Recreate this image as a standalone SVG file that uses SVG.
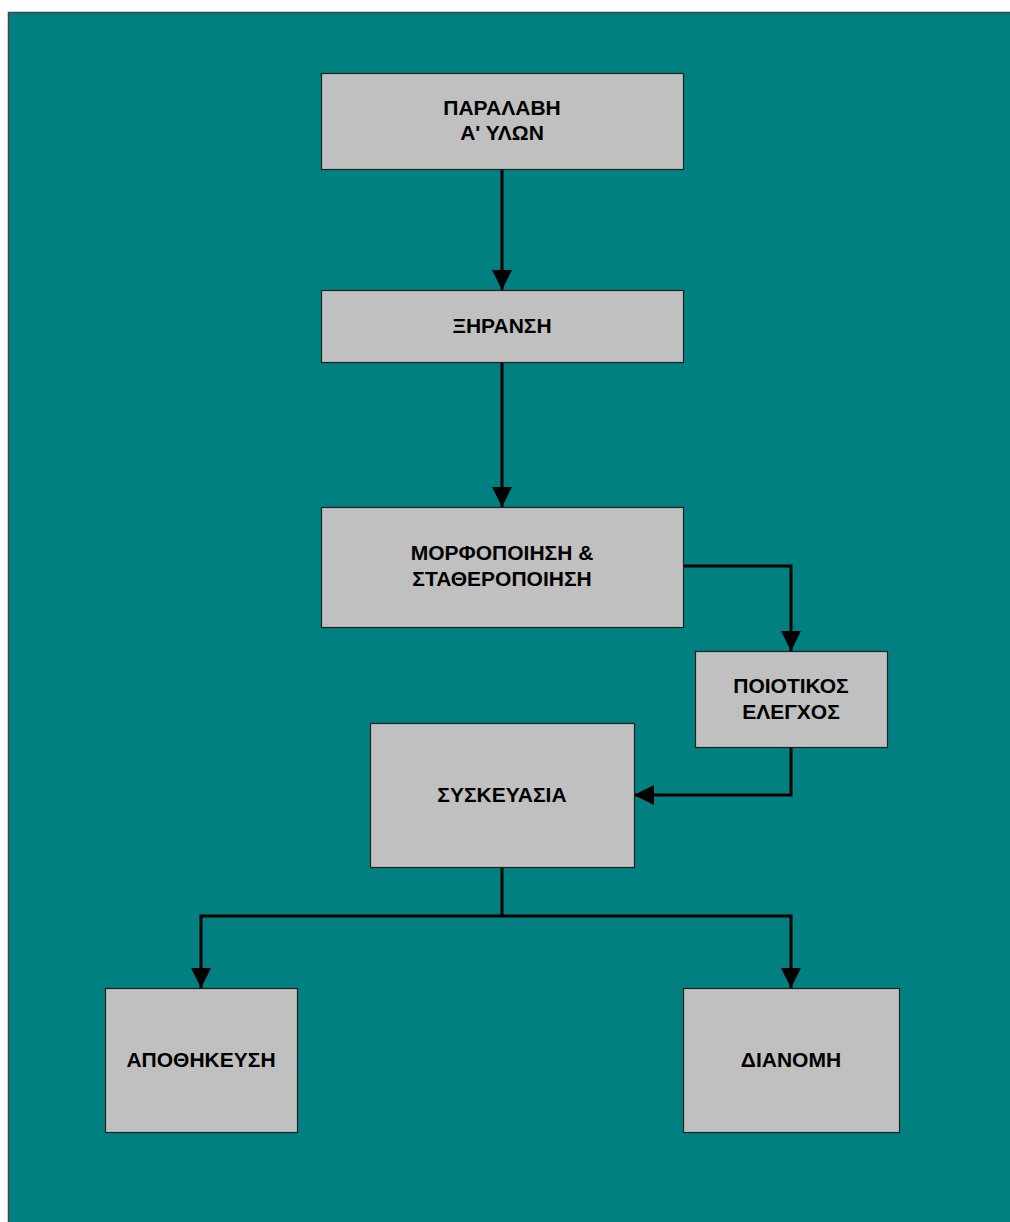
<svg xmlns="http://www.w3.org/2000/svg" width="1010" height="1222" viewBox="0 0 1010 1222">
<style>
.box{fill:#C0C0C0;stroke:#202020;stroke-width:1.2}
.t{font-family:"Liberation Sans",Arial,sans-serif;font-weight:bold;font-size:21px;fill:#000;text-anchor:middle}
.c{fill:none;stroke:#000;stroke-width:3;marker-end:url(#ah)}
.n{fill:none;stroke:#000;stroke-width:3}
</style>
<defs>
<marker id="ah" markerWidth="20" markerHeight="20" refX="20" refY="10" orient="auto" markerUnits="userSpaceOnUse" viewBox="0 0 20 20">
<path d="M0,0 L20,10 L0,20 Z" fill="#000"/>
</marker>
</defs>
<rect x="0" y="0" width="1010" height="1222" fill="#fff"/>
<rect x="8.5" y="12.5" width="1010" height="1220" fill="#008080" stroke="#444" stroke-width="1.5"/>
<g id="connectors">
<line class="c" x1="502" y1="169" x2="502" y2="290"/>
<line class="c" x1="502" y1="362" x2="502" y2="507"/>
<polyline class="c" points="683,566 791,566 791,651"/>
<polyline class="c" points="791,747 791,795 634,795"/>
<line class="n" x1="502" y1="867" x2="502" y2="916"/>
<polyline class="c" points="502,916 201,916 201,988"/>
<polyline class="c" points="502,916 791,916 791,988"/>
</g>
<g id="n1"><rect class="box" x="321.5" y="73.5" width="362" height="96"/><text class="t" x="502" y="115">ΠΑΡΑΛΑΒΗ</text><text class="t" x="502" y="140">Α' ΥΛΩΝ</text></g>
<g id="n2"><rect class="box" x="321.5" y="290.5" width="362" height="72"/><text class="t" x="502" y="333">ΞΗΡΑΝΣΗ</text></g>
<g id="n3"><rect class="box" x="321.5" y="507.5" width="362" height="120"/><text class="t" x="502" y="560">ΜΟΡΦΟΠΟΙΗΣΗ &amp;</text><text class="t" x="502" y="586">ΣΤΑΘΕΡΟΠΟΙΗΣΗ</text></g>
<g id="n4"><rect class="box" x="695.5" y="651.5" width="192" height="96"/><text class="t" x="791" y="693">ΠΟΙΟΤΙΚΟΣ</text><text class="t" x="791" y="719">ΕΛΕΓΧΟΣ</text></g>
<g id="n5"><rect class="box" x="370.5" y="723.5" width="264" height="144"/><text class="t" x="502" y="802">ΣΥΣΚΕΥΑΣΙΑ</text></g>
<g id="n6"><rect class="box" x="105.5" y="988.5" width="192" height="144"/><text class="t" x="201" y="1067">ΑΠΟΘΗΚΕΥΣΗ</text></g>
<g id="n7"><rect class="box" x="683.5" y="988.5" width="216" height="144"/><text class="t" x="791" y="1067">ΔΙΑΝΟΜΗ</text></g>
</svg>
